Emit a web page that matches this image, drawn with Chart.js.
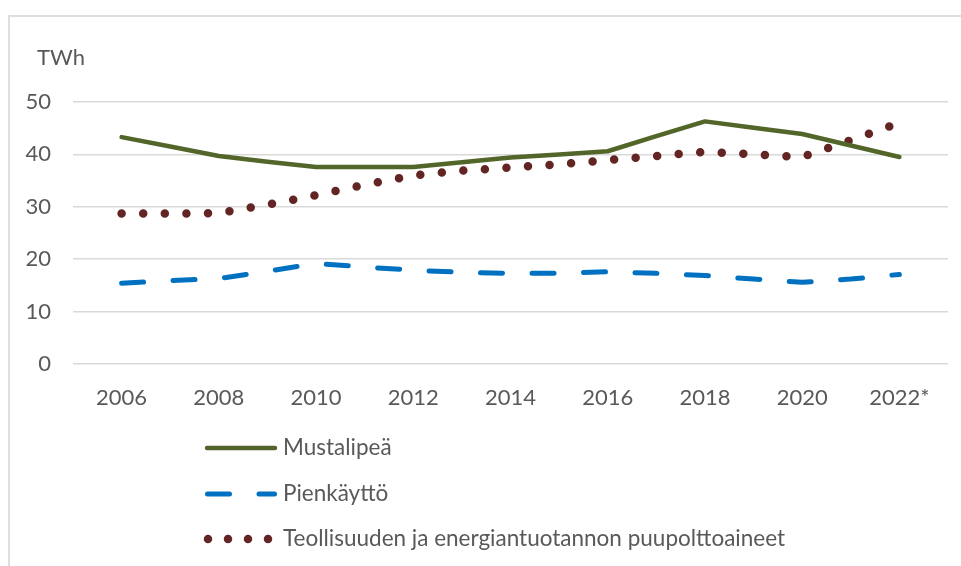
<!DOCTYPE html>
<html>
<head>
<meta charset="utf-8">
<script src="https://cdn.jsdelivr.net/npm/chart.js@4/dist/chart.umd.min.js"></script>
<style>
  html, body { margin: 0; padding: 0; background: #fff; }
  #wrap { position: relative; width: 961px; height: 566px; overflow: hidden; }
  #frame { position: absolute; left: 8px; top: 15px; width: 1000px; height: 600px;
           border-left: 2px solid #dedede; border-top: 2px solid #dedede; box-sizing: border-box; }
  canvas { position: absolute; left: 0; top: 0; }
</style>
</head>
<body>
<div id="wrap">
  <div id="frame"></div>
  <canvas id="c" width="961" height="566"></canvas>
</div>
<script>
// ---- data ----
const years = [2006, 2007, 2008, 2009, 2010, 2011, 2012, 2013, 2014, 2015, 2016, 2017, 2018, 2019, 2020, 2021, 2022];
const mustalipea = [43.3, 41.5, 39.7, 38.6, 37.6, 37.6, 37.6, 38.5, 39.4, 40.0, 40.6, 43.5, 46.3, 45.1, 43.9, 41.7, 39.5];
const pienkaytto = [15.4, 15.9, 16.3, 17.7, 19.2, 18.5, 17.9, 17.5, 17.3, 17.3, 17.6, 17.3, 16.9, 16.2, 15.6, 16.2, 17.1];
const teollisuus = [28.7, 28.7, 28.8, 30.4, 32.2, 34.2, 36.0, 36.9, 37.5, 38.1, 38.9, 39.7, 40.5, 40.0, 39.5, 42.7, 46.0];
const seriesNames = ['Mustalipeä', 'Pienkäyttö', 'Teollisuuden ja energiantuotannon puupolttoaineet'];
const tickYears = [2006, 2008, 2010, 2012, 2014, 2016, 2018, 2020, 2022];
const tickLabels = ['2006', '2008', '2010', '2012', '2014', '2016', '2018', '2020', '2022*'];
const yTicks = [0, 10, 20, 30, 40, 50];
const unitLabel = 'TWh';

const TEXT = '#595959';
const FONT = 'Lato';
Chart.defaults.font.family = FONT;
Chart.defaults.font.size = 22;
Chart.defaults.color = TEXT;

const toXY = (vals) => years.map((y, i) => ({ x: y, y: vals[i] }));

const legendStyles = [
  { dash: [], cap: 'round', x0: 207, x1: 275 },
  { dash: [22, 29.5], cap: 'round', x0: 207.5, x1: 274.5 },
  { dash: [0, 20], cap: 'round', x0: 208, x1: 268.5 }
];
const legendRows = [448, 494, 539];

const extras = {
  id: 'extras',
  afterDraw(chart) {
    const ctx = chart.ctx;
    ctx.save();
    ctx.fillStyle = TEXT;
    ctx.font = '22px ' + FONT;
    ctx.textAlign = 'left';
    ctx.textBaseline = 'middle';
    ctx.fillText(unitLabel, 37, 58);
    chart.data.datasets.forEach((ds, i) => {
      const st = legendStyles[i];
      const y = legendRows[i];
      ctx.save();
      ctx.strokeStyle = ds.borderColor;
      ctx.lineWidth = ds.borderWidth;
      ctx.lineCap = st.cap;
      ctx.setLineDash(st.dash);
      ctx.beginPath();
      ctx.moveTo(st.x0, y);
      ctx.lineTo(st.x1, y);
      ctx.stroke();
      ctx.restore();
      ctx.fillStyle = TEXT;
      ctx.font = '22.5px ' + FONT;
      ctx.textBaseline = 'middle';
      ctx.fillText(ds.label, 283, y);
    });
    ctx.restore();
  }
};

new Chart(document.getElementById('c'), {
  type: 'line',
  data: {
    datasets: [
      { label: seriesNames[0], data: toXY(mustalipea), borderColor: '#536629', borderWidth: 4.5,
        borderCapStyle: 'round', borderJoinStyle: 'round', pointRadius: 0, tension: 0, fill: false },
      { label: seriesNames[1], data: toXY(pienkaytto), borderColor: '#0070c0', borderWidth: 5,
        borderDash: [22, 29.5], borderCapStyle: 'round', borderJoinStyle: 'round', pointRadius: 0, tension: 0, fill: false },
      { label: seriesNames[2], data: toXY(teollisuus), borderColor: '#632523', borderWidth: 8.5,
        borderDash: [0, 21.6], borderCapStyle: 'round', borderJoinStyle: 'round', pointRadius: 0, tension: 0, fill: false }
    ]
  },
  options: {
    responsive: false,
    devicePixelRatio: 1,
    animation: false,
    layout: { padding: { left: 0, right: 13, top: 102, bottom: 152 } },
    plugins: { legend: { display: false }, tooltip: { enabled: false }, title: { display: false } },
    scales: {
      x: {
        type: 'linear',
        min: 2005, max: 2023,
        afterBuildTicks: (s) => { s.ticks = tickYears.map(v => ({ value: v })); },
        afterFit: (s) => { s.height = 50; },
        grid: { display: false },
        border: { display: false },
        ticks: {
          autoSkip: false, maxRotation: 0, padding: 13,
          callback: (v) => tickLabels[tickYears.indexOf(v)]
        }
      },
      y: {
        min: 0, max: 50,
        afterBuildTicks: (s) => { s.ticks = yTicks.map(v => ({ value: v })); },
        afterFit: (s) => { s.width = 73; },
        grid: { color: '#d9d9d9', lineWidth: 1.5, drawTicks: false },
        border: { display: false },
        ticks: { padding: 22 }
      }
    }
  },
  plugins: [extras]
});
</script>
</body>
</html>
